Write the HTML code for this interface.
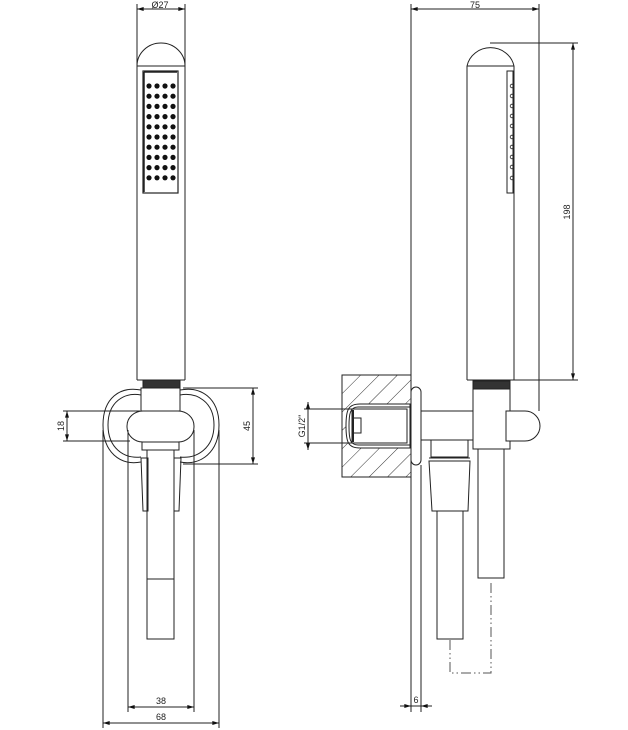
<!DOCTYPE html>
<html><head><meta charset="utf-8"><style>
html,body{margin:0;padding:0;background:#fff;}
svg{display:block;}
text{font-family:"Liberation Sans",sans-serif;font-size:9px;fill:#222;}
</style></head><body>
<svg width="628" height="730" viewBox="0 0 628 730" xmlns="http://www.w3.org/2000/svg">
<defs>
<marker id="a" viewBox="0 0 10 6" refX="10" refY="3" markerWidth="8" markerHeight="4" orient="auto-start-reverse" markerUnits="userSpaceOnUse"><path d="M0,0L10,3L0,6z" fill="#111"/></marker>
<pattern id="h" patternUnits="userSpaceOnUse" width="13" height="13" patternTransform="rotate(45)"><line x1="0" y1="0" x2="0" y2="13" stroke="#333" stroke-width="1"/></pattern>
</defs>
<g fill="none" stroke="#222" stroke-width="1">
<line x1="137" y1="4" x2="137" y2="43"/><line x1="185" y1="4" x2="185" y2="43"/>
<line x1="137" y1="9" x2="185" y2="9" marker-start="url(#a)" marker-end="url(#a)"/>
<path d="M137,66 A24,23 0 0 1 185,66"/>
<path d="M137,66 L185,66 M137,43 L137,380 M185,43 L185,380 M137,380 L185,380"/>
<rect x="143" y="71" width="35" height="122" stroke-width="1.2"/>
<line x1="144" y1="72" x2="177" y2="72" stroke-width="1.5"/>
<line x1="144" y1="72" x2="144" y2="192" stroke-width="1.5"/>
<rect x="143" y="380" width="37" height="8" fill="#333"/>
<path d="M141,390 C120,386 103,398 103,425 C103,452 120,466 141,462"/>
<path d="M141,395 C124,392 108,402 108,425 C108,448 124,459 141,457"/>
<path d="M180,390 C201,386 219,398 219,425 C219,452 201,466 180,462"/>
<path d="M180,395 C197,392 214,402 214,425 C214,448 197,459 180,457"/>
<rect x="141" y="388" width="39" height="23"/>
<rect x="127" y="411" width="67" height="31" rx="16" ry="15" fill="#fff"/>
<rect x="142" y="442" width="37" height="8"/>
<path d="M141,458 L148,458 L148,511 L143,511 Z M174,458 L181,458 L179,511 L174,511 Z"/>
<rect x="147" y="450" width="27" height="189"/>
<line x1="147" y1="579" x2="174" y2="579"/>
<line x1="103" y1="430" x2="103" y2="728"/><line x1="219" y1="430" x2="219" y2="728"/>
<line x1="128" y1="430" x2="128" y2="712"/><line x1="194" y1="430" x2="194" y2="712"/>
<line x1="128" y1="707" x2="194" y2="707" marker-start="url(#a)" marker-end="url(#a)"/>
<line x1="103" y1="723" x2="219" y2="723" marker-start="url(#a)" marker-end="url(#a)"/>
<line x1="63" y1="411" x2="140" y2="411"/><line x1="63" y1="441" x2="130" y2="441"/>
<line x1="67" y1="411" x2="67" y2="441" marker-start="url(#a)" marker-end="url(#a)"/>
<line x1="183" y1="388" x2="258" y2="388"/><line x1="183" y1="464" x2="258" y2="464"/>
<line x1="253" y1="388" x2="253" y2="464" marker-start="url(#a)" marker-end="url(#a)"/>

<line x1="411" y1="4" x2="411" y2="712"/>
<line x1="539" y1="4" x2="539" y2="411"/>
<line x1="411" y1="9" x2="539" y2="9" marker-start="url(#a)" marker-end="url(#a)"/>
<rect x="342" y="375" width="69" height="102" fill="url(#h)"/>
<path d="M410,404 L360,404 C348,404 346,410 346,426 C346,442 348,448 360,448 L410,448 Z" fill="#fff"/>
<path d="M410,407 L358,407 C350,407 349,414 349,426 C349,439 350,445 358,445 L410,445"/>
<rect x="352" y="409" width="55" height="34" fill="#fff"/>
<line x1="353" y1="410" x2="353" y2="442" stroke-width="2"/>
<rect x="352" y="418" width="9" height="15"/>
<rect x="411" y="387" width="10" height="78" rx="5" fill="#fff"/>
<line x1="421" y1="465" x2="421" y2="712"/>
<line x1="411" y1="706" x2="421" y2="706"/>
<line x1="400" y1="706" x2="411" y2="706" marker-end="url(#a)"/>
<line x1="432" y1="706" x2="421" y2="706" marker-end="url(#a)"/>
<line x1="304" y1="409" x2="352" y2="409"/><line x1="304" y1="443" x2="352" y2="443"/>
<line x1="308" y1="402" x2="308" y2="450" marker-start="url(#a)" marker-end="url(#a)"/>
<rect x="421" y="411" width="55" height="29" fill="#fff"/>
<rect x="431" y="440" width="37" height="17"/>
<path d="M429,461 L470,461 L468,511 L432,511 Z"/>
<line x1="429" y1="458" x2="470" y2="458"/>
<rect x="437" y="511" width="26" height="128"/>
<rect x="473" y="381" width="37" height="8" fill="#333"/>
<rect x="473" y="389" width="37" height="60" fill="#fff"/>
<path d="M506,411 L525,411 A15,15 0 0 1 525,441 L506,441 Z" fill="#fff"/>
<rect x="478" y="449" width="26" height="129"/>
<path d="M450,640 L450,673 L491,673 L491,580" stroke-dasharray="10,3,1.5,3,1.5,3" stroke="#555"/>
<path d="M467,66 A24,23 0 0 1 514,66"/>
<path d="M467,66 L514,66 M467,66 L467,380 M514,66 L514,380 M467,380 L514,380"/>
<rect x="507" y="71" width="6" height="122"/>
<g stroke-width="0.8">
<circle cx="512" cy="86" r="1.8"/><circle cx="512" cy="96" r="1.8"/><circle cx="512" cy="106" r="1.8"/><circle cx="512" cy="116" r="1.8"/><circle cx="512" cy="126" r="1.8"/><circle cx="512" cy="137" r="1.8"/><circle cx="512" cy="147" r="1.8"/><circle cx="512" cy="157" r="1.8"/><circle cx="512" cy="167" r="1.8"/><circle cx="512" cy="178" r="1.8"/>
</g>
<line x1="490" y1="43" x2="578" y2="43"/><line x1="514" y1="380" x2="578" y2="380"/>
<line x1="573" y1="43" x2="573" y2="380" marker-start="url(#a)" marker-end="url(#a)"/>
</g>
<g fill="#111">
<g id="r"><circle cx="149" cy="86" r="2.6"/><circle cx="157" cy="86" r="2.6"/><circle cx="165" cy="86" r="2.6"/><circle cx="173" cy="86" r="2.6"/></g>
<use href="#r" y="10.2"/><use href="#r" y="20.4"/><use href="#r" y="30.6"/><use href="#r" y="40.8"/><use href="#r" y="51"/><use href="#r" y="61.2"/><use href="#r" y="71.4"/><use href="#r" y="81.6"/><use href="#r" y="91.8"/>
</g>
<text x="160" y="8" text-anchor="middle">Ø27</text>
<text x="475" y="8" text-anchor="middle">75</text>
<text x="161" y="704" text-anchor="middle">38</text>
<text x="161" y="720" text-anchor="middle">68</text>
<text x="416" y="703" text-anchor="middle">6</text>
<text transform="translate(64,426) rotate(-90)" text-anchor="middle">18</text>
<text transform="translate(250,426) rotate(-90)" text-anchor="middle">45</text>
<text transform="translate(570,212) rotate(-90)" text-anchor="middle">198</text>
<text transform="translate(305,426) rotate(-90)" text-anchor="middle">G1/2"</text>
</svg>
</body></html>
